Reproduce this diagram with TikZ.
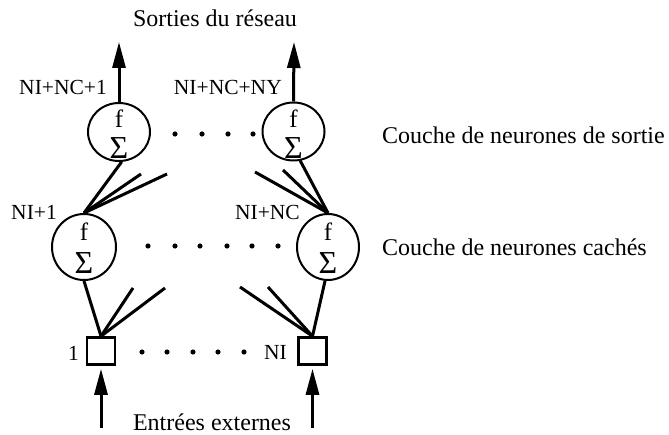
\documentclass[tikz,border=0pt]{standalone}
\usepackage{fontspec}
\setmainfont{Liberation Serif}
\usetikzlibrary{shapes.geometric,arrows.meta}
\begin{document}
\begin{tikzpicture}[x=1pt,y=-1pt,
  neuron/.style={draw,ellipse,line width=2pt,inner sep=0pt},
  inbox/.style={draw,rectangle,line width=2.6pt,minimum width=28pt,minimum height=27pt,inner sep=0pt},
  wire/.style={line width=3pt},
  arr/.style={line width=3pt,-{Triangle[length=26pt,width=13pt]}},
  lbl/.style={inner sep=0pt,font=\fontsize{21.5}{24}\selectfont},
  big/.style={inner sep=0pt,font=\fontsize{24}{28}\selectfont},
  fsym/.style={inner sep=0pt,font=\fontsize{25}{26}\selectfont},
  ssym/.style={inner sep=0pt,font=\fontsize{32}{33}\selectfont},
  dot/.style={fill=black}
]
\useasboundingbox (0,0) rectangle (669,435);
% output neurons
\node[neuron,minimum width=62pt,minimum height=58pt] (o1) at (119,132) {};
\node[neuron,minimum width=62pt,minimum height=58pt] (o2) at (293.5,131.5) {};
% hidden neurons
\node[neuron,minimum width=64pt,minimum height=66pt] (h1) at (84,247) {};
\node[neuron,minimum width=62pt,minimum height=66pt] (h2) at (328,247) {};
% symbols
\node[fsym] (o1f) at (119,119) {f};
\node[ssym] (o1s) at (119,148) {Σ};
\node[fsym] (o2f) at (293.5,119) {f};
\node[ssym] (o2s) at (293.5,148) {Σ};
\node[fsym] (h1f) at (84,232) {f};
\node[ssym] (h1s) at (84,263) {Σ};
\node[fsym] (h2f) at (328,232) {f};
\node[ssym] (h2s) at (328,263) {Σ};
% input boxes
\node[inbox] (s1) at (101,351) {};
\node[inbox] (s2) at (312.5,351) {};
% outputs
\coordinate (t1) at (119,42);
\coordinate (t2) at (294,42);
\draw[arr] (o1.north) -- (t1);
\draw[arr] (o2.north) -- (t2);
% inputs
\coordinate (b1) at (101,428);
\coordinate (b2) at (312.5,428);
\draw[arr,shorten >=3pt] (b1) -- (s1.south);
\draw[arr,shorten >=3pt] (b2) -- (s2.south);
% fan hidden -> output
\coordinate (fa1) at (141,174);
\coordinate (fa2) at (167,174);
\coordinate (fb1) at (283,170);
\coordinate (fb2) at (255,172);
\draw[wire] (h1.north) -- (o1.275);
\draw[wire] (h1.north) -- (fa1);
\draw[wire] (h1.north) -- (fa2);
\draw[wire] (h2.north) -- (o2.283);
\draw[wire] (h2.north) -- (fb1);
\draw[wire] (h2.north) -- (fb2);
% fan input -> hidden
\coordinate (ga1) at (133,288);
\coordinate (ga2) at (165,288);
\coordinate (gb1) at (268,287);
\coordinate (gb2) at (240,287);
\draw[wire] (s1.north) -- (h1.south);
\draw[wire] (s1.north) -- (ga1);
\draw[wire] (s1.north) -- (ga2);
\draw[wire] (s2.north) -- (h2.265);
\draw[wire] (s2.north) -- (gb1);
\draw[wire] (s2.north) -- (gb2);
% dots
\foreach \x in {175,202,228,253} \fill[dot] (\x,134) circle (2.6pt);
\foreach \x in {148,175,200,227,252,278} \fill[dot] (\x,246) circle (2.6pt);
\foreach \x in {142,167,193,218,244} \fill[dot] (\x,352) circle (2.6pt);
% labels
\node[lbl,anchor=east] (l1) at (107,87) {NI+NC+1};
\node[lbl,anchor=east] (l2) at (282,87) {NI+NC+NY};
\node[lbl,anchor=east] (l3) at (57,212) {NI+1};
\node[lbl,anchor=east] (l4) at (300,212) {NI+NC};
\node[lbl,anchor=east] (l5) at (79,353) {1};
\node[lbl,anchor=east] (l6) at (287,352) {NI};
\node[big] (top) at (215,18) {Sorties du réseau};
\node[big] (bot) at (212,422) {Entrées externes};
\node[big,anchor=west] (c1) at (382,135) {Couche de neurones de sortie};
\node[big,anchor=west] (c2) at (382,247) {Couche de neurones cachés};
\end{tikzpicture}
\end{document}
